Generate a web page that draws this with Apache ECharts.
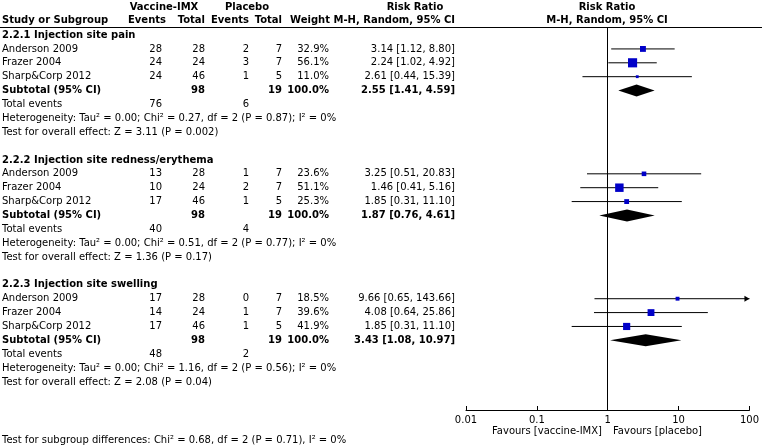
<!DOCTYPE html>
<html>
<head>
<meta charset="utf-8">
<script src="https://cdn.jsdelivr.net/npm/echarts@6/dist/echarts.min.js"></script>
<style>
html, body { margin: 0; padding: 0; background: #fff; }
#chart { width: 762px; height: 448px; }
</style>
</head>
<body>
<div id="chart"></div>
<script>
// subgroups and studies
const subgroups = ['2.2.1 Injection site pain', '2.2.2 Injection site redness/erythema', '2.2.3 Injection site swelling']
const studies = ['Anderson 2009', 'Frazer 2004', 'Sharp&Corp 2012']

// per subgroup, per study
const vacEvents = [[28, 24, 24], [13, 10, 17], [17, 14, 17]]
const vacTotal = [[28, 24, 46], [28, 24, 46], [28, 24, 46]]
const plaEvents = [[2, 3, 1], [1, 2, 1], [0, 1, 1]]
const plaTotal = [[7, 7, 5], [7, 7, 5], [7, 7, 5]]
const weights = [[32.9, 56.1, 11.0], [23.6, 51.1, 25.3], [18.5, 39.6, 41.9]]
const rr = [[3.14, 2.24, 2.61], [3.25, 1.46, 1.85], [9.66, 4.08, 1.85]]
const rrLow = [[1.12, 1.02, 0.44], [0.51, 0.41, 0.31], [0.65, 0.64, 0.31]]
const rrHigh = [[8.80, 4.92, 15.39], [20.83, 5.16, 11.10], [143.66, 25.86, 11.10]]

// subtotals
const subVacTotal = [98, 98, 98]
const subPlaTotal = [19, 19, 19]
const subRR = [2.55, 1.87, 3.43]
const subLow = [1.41, 0.76, 1.08]
const subHigh = [4.59, 4.61, 10.97]
const totalEventsVac = [76, 40, 48]
const totalEventsPla = [6, 4, 2]
const heterogeneity = [
	'Heterogeneity: Tau² = 0.00; Chi² = 0.27, df = 2 (P = 0.87); I² = 0%',
	'Heterogeneity: Tau² = 0.00; Chi² = 0.51, df = 2 (P = 0.77); I² = 0%',
	'Heterogeneity: Tau² = 0.00; Chi² = 1.16, df = 2 (P = 0.56); I² = 0%'
]
const overallEffect = [
	'Test for overall effect: Z = 3.11 (P = 0.002)',
	'Test for overall effect: Z = 1.36 (P = 0.17)',
	'Test for overall effect: Z = 2.08 (P = 0.04)'
]
const subgroupTest = 'Test for subgroup differences: Chi² = 0.68, df = 2 (P = 0.71), I² = 0%'
const favours = ['Favours [vaccine-IMX]', 'Favours [placebo]']

// layout
const FONT = '"DejaVu Sans", sans-serif'
const FS = 10
const col = { study: 2, vacE: 162, vacT: 205, plaE: 249, plaT: 282, weight: 329, ci: 455, plot: 607 }
const rowMin = -0.58
const rowMax = 27.02

const texts = [] // [x, row, text, align, bold]
const points = [] // [low, high, rr, row, weight]
const diamonds = [] // [low, high, rr, row]

const t = (x, row, s, align, bold) => texts.push([x, row, String(s), align, !!bold])
const ci = (m, l, h) => `${m.toFixed(2)} [${l.toFixed(2)}, ${h.toFixed(2)}]`

// header
t(164, -2.02, 'Vaccine-IMX', 'center', true)
t(247, -2.02, 'Placebo', 'center', true)
t(415, -2.02, 'Risk Ratio', 'center', true)
t(col.plot, -2.02, 'Risk Ratio', 'center', true)
t(col.study, -1.08, 'Study or Subgroup', 'left', true)
t(166, -1.08, 'Events', 'right', true)
t(col.vacT, -1.08, 'Total', 'right', true)
t(col.plaE, -1.08, 'Events', 'right', true)
t(col.plaT, -1.08, 'Total', 'right', true)
t(330, -1.08, 'Weight', 'right', true)
t(col.ci, -1.08, 'M-H, Random, 95% CI', 'right', true)
t(col.plot, -1.08, 'M-H, Random, 95% CI', 'center', true)

let row = 0
subgroups.forEach((g, k) => {
	t(col.study, row, g, 'left', true)
	row++
	studies.forEach((s, i) => {
		t(col.study, row, s, 'left')
		t(col.vacE, row, vacEvents[k][i], 'right')
		t(col.vacT, row, vacTotal[k][i], 'right')
		t(col.plaE, row, plaEvents[k][i], 'right')
		t(col.plaT, row, plaTotal[k][i], 'right')
		t(col.weight, row, weights[k][i].toFixed(1) + '%', 'right')
		t(col.ci, row, ci(rr[k][i], rrLow[k][i], rrHigh[k][i]), 'right')
		points.push([rrLow[k][i], rrHigh[k][i], rr[k][i], row, weights[k][i]])
		row++
	})
	t(col.study, row, 'Subtotal (95% CI)', 'left', true)
	t(col.vacT, row, subVacTotal[k], 'right', true)
	t(col.plaT, row, subPlaTotal[k], 'right', true)
	t(col.weight, row, '100.0%', 'right', true)
	t(col.ci, row, ci(subRR[k], subLow[k], subHigh[k]), 'right', true)
	diamonds.push([subLow[k], subHigh[k], subRR[k], row])
	row++
	t(col.study, row, 'Total events', 'left')
	t(col.vacE, row, totalEventsVac[k], 'right')
	t(col.plaE, row, totalEventsPla[k], 'right')
	row++
	t(col.study, row, heterogeneity[k], 'left')
	row++
	t(col.study, row, overallEffect[k], 'left')
	row += 2
})
t(col.plot - 5, 28.55, favours[0], 'right')
t(col.plot + 6, 28.55, favours[1], 'left')
t(col.study, 29.2, subgroupTest, 'left')

const chart = echarts.init(document.getElementById('chart'))

const yAxisBase = { type: 'value', min: rowMin, max: rowMax, inverse: true, show: false }

chart.setOption({
	animation: false,
	grid: [
		{ left: 0, right: 0, top: 27, bottom: 38 },
		{ left: 466, right: 11, top: 27, bottom: 38 }
	],
	xAxis: [
		{
			gridIndex: 0, type: 'value', min: 0, max: 762, position: 'top',
			axisLine: { show: true, onZero: false, lineStyle: { color: '#000', width: 1 } },
			axisTick: { show: false }, axisLabel: { show: false }, splitLine: { show: false }
		},
		{
			gridIndex: 1, type: 'log', logBase: 10, min: 0.01, max: 100, position: 'bottom',
			axisLine: { show: true, onZero: false, lineStyle: { color: '#000', width: 1 } },
			axisTick: { show: true, inside: true, length: 4, lineStyle: { color: '#000' } },
			minorTick: { show: false },
			axisLabel: { color: '#000', fontSize: FS, fontFamily: FONT, margin: 5 },
			splitLine: { show: false }
		}
	],
	yAxis: [
		Object.assign({ gridIndex: 0 }, yAxisBase),
		Object.assign({ gridIndex: 1 }, yAxisBase)
	],
	series: [
		{
			type: 'custom',
			xAxisIndex: 0, yAxisIndex: 0,
			clip: false,
			silent: true,
			data: texts.map(d => [d[0], d[1]]),
			renderItem: (params, api) => {
				const d = texts[params.dataIndex]
				const p = api.coord([api.value(0), api.value(1)])
				return {
					type: 'text',
					x: p[0], y: p[1],
					style: {
						text: d[2],
						fill: '#000',
						font: (d[4] ? 'bold ' : '') + FS + 'px ' + FONT,
						align: d[3],
						verticalAlign: 'middle'
					}
				}
			}
		},
		{
			type: 'custom',
			xAxisIndex: 1, yAxisIndex: 1,
			clip: false,
			silent: true,
			data: points,
			renderItem: (params, api) => {
				const lo = api.value(0), hi = api.value(1), m = api.value(2), r = api.value(3), w = api.value(4)
				const p1 = api.coord([Math.max(lo, 0.01), r])
				const p2 = api.coord([Math.min(hi, 100), r])
				const c = api.coord([m, r])
				const s = 1.3 + 0.14 * w
				const children = [
					{ type: 'line', shape: { x1: p1[0], y1: p1[1], x2: p2[0], y2: p2[1] }, style: { stroke: '#000', lineWidth: 1 } },
					{ type: 'rect', shape: { x: c[0] - s / 2, y: c[1] - s / 2, width: s, height: s }, style: { fill: '#0000c8' } }
				]
				// arrow when the interval runs past the axis
				if (hi > 100) {
					children.push({
						type: 'polygon',
						shape: { points: [[p2[0], p2[1]], [p2[0] - 5, p2[1] - 3], [p2[0] - 5, p2[1] + 3]] },
						style: { fill: '#000' }
					})
				}
				return { type: 'group', children }
			},
			markLine: {
				silent: true,
				symbol: 'none',
				label: { show: false },
				lineStyle: { color: '#000', type: 'solid', width: 1 },
				data: [{ xAxis: 1 }]
			}
		},
		{
			type: 'custom',
			xAxisIndex: 1, yAxisIndex: 1,
			clip: false,
			silent: true,
			data: diamonds,
			renderItem: (params, api) => {
				const r = api.value(3)
				const a = api.coord([api.value(0), r])
				const b = api.coord([api.value(1), r])
				const c = api.coord([api.value(2), r])
				return {
					type: 'polygon',
					shape: { points: [[a[0], a[1]], [c[0], c[1] - 6], [b[0], b[1]], [c[0], c[1] + 6]] },
					style: { fill: '#000' }
				}
			}
		}
	]
})
</script>
</body>
</html>
